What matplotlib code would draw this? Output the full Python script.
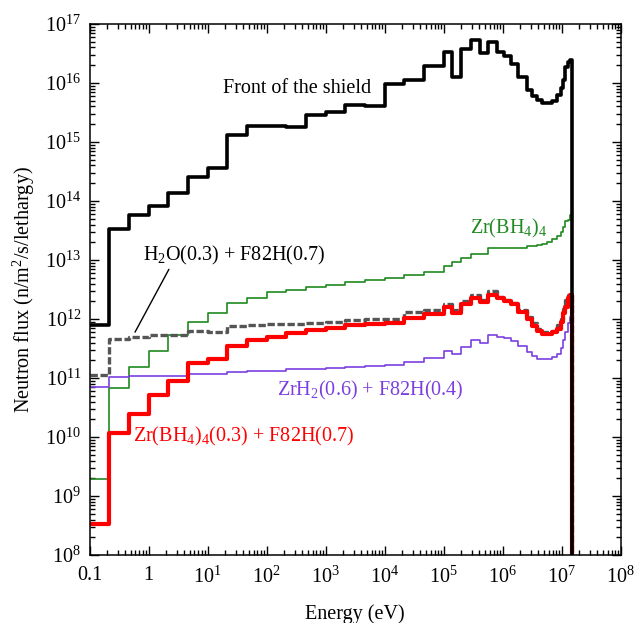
import numpy as np
import matplotlib
matplotlib.use('Agg')
import matplotlib.pyplot as plt
from matplotlib.ticker import LogLocator, FuncFormatter, NullFormatter


# Energy group boundaries (eV)
E_BOUNDS = [0.1, 0.215, 0.464, 1.0, 2.15, 4.64, 10.0, 21.5, 46.4, 100.0,
            215.0, 464.0, 1.0e3, 2.15e3, 4.64e3, 1.0e4, 2.15e4, 4.64e4, 1.0e5,
            1.41e5, 1.98e5, 2.89e5, 4.05e5, 5.61e5, 8.17e5, 1.07e6, 1.39e6,
            1.85e6, 2.57e6, 3.13e6, 3.8e6, 4.61e6, 5.61e6, 6.82e6, 8.3e6,
            9.68e6, 1.07e7, 1.16e7, 1.27e7, 1.39e7, 1.52e7]

# Flux per group (n/m2/s/lethargy)
front = [7.9e11, 3.4e13, 5.9e13, 8.3e13, 1.35e14, 2.6e14, 3.6e14, 1.3e15,
         1.87e15, 1.87e15, 1.78e15, 2.9e15, 3.2e15, 4.2e15, 4.0e15, 9.6e15,
         1.12e16, 1.96e16,
         3.3e16, 1.25e16, 3.7e16, 5.4e16, 3.2e16, 4.9e16, 3.3e16, 2.9e16,
         2.1e16, 1.25e16, 7.6e15, 6.0e15, 5.2e15, 4.5e15, 4.5e15, 5.0e15,
         6.3e15, 8.1e15, 1.12e16, 1.9e16, 2.3e16, 2.5e16]

h2o_f82h = [1.12e11, 4.6e11, 4.9e11, 5.3e11, 5.3e11, 6.3e11, 6.0e11, 7.6e11,
            7.9e11, 8.2e11, 8.3e11, 8.7e11, 9.0e11, 9.6e11, 1.0e12, 1.0e12,
            1.3e12, 1.4e12,
            1.78e12, 1.4e12, 2.0e12, 2.6e12, 2.1e12, 3.0e12, 2.4e12, 2.1e12,
            1.85e12, 1.4e12, 1.1e12, 8.7e11, 6.9e11, 6.1e11, 6.0e11, 6.3e11,
            7.9e11, 1.0e12, 1.5e12, 2.1e12, 2.6e12, 2.7e12]

zrbh4_f82h = [3.4e8, 1.18e10, 2.5e10, 5.1e10, 8.9e10, 1.78e11, 2.1e11, 3.5e11,
              4.4e11, 5.0e11, 5.9e11, 6.5e11, 7.1e11, 7.8e11, 8.1e11, 8.7e11,
              1.03e12, 1.2e12,
              1.58e12, 1.25e12, 1.78e12, 2.3e12, 1.96e12, 2.6e12, 2.25e12,
              2.0e12, 1.78e12, 1.3e12, 1.0e12, 7.6e11, 6.3e11, 5.5e11, 5.5e11,
              6.1e11, 6.9e11, 8.9e11, 1.25e12, 1.6e12, 2.25e12, 2.6e12]

zrbh4 = [1.96e9, 6.8e10, 1.55e11, 2.9e11, 5.4e11, 8.8e11, 1.28e12, 1.85e12,
         2.25e12, 2.85e12, 3.15e12, 3.45e12, 3.8e12, 4.2e12, 4.55e12, 4.9e12,
         5.6e12, 6.3e12,
         7.9e12, 9.3e12, 1.07e13, 1.26e13, 1.26e13, 1.58e13, 1.58e13, 1.58e13,
         1.58e13, 1.6e13, 1.7e13, 1.75e13, 1.8e13, 1.9e13, 2.0e13, 2.3e13,
         2.6e13, 3.0e13, 3.6e13, 4.5e13, 4.8e13, 5.8e13]

zrh2_f82h = [7.0e10, 1.04e11, 1.08e11, 1.1e11, 1.1e11, 1.15e11, 1.18e11,
             1.25e11, 1.3e11, 1.34e11, 1.4e11, 1.45e11, 1.48e11, 1.55e11,
             1.6e11, 1.65e11, 1.9e11, 2.2e11,
             2.9e11, 2.6e11, 3.4e11, 4.4e11, 3.9e11, 5.4e11, 5.0e11, 4.7e11,
             4.3e11, 3.5e11, 2.8e11, 2.35e11, 2.1e11, 2.1e11, 2.1e11, 2.3e11,
             2.6e11, 3.2e11, 4.4e11, 6.1e11, 8.6e11, 1.1e12]

plt.rcParams['font.family'] = ['Liberation Serif', 'DejaVu Serif']
plt.rcParams['mathtext.fontset'] = 'custom'
plt.rcParams['mathtext.rm'] = 'Liberation Serif'
plt.rcParams['mathtext.it'] = 'Liberation Serif:italic'
plt.rcParams['mathtext.bf'] = 'Liberation Serif:bold'
plt.rcParams['font.size'] = 14.5

fig = plt.figure(figsize=(6.35, 6.23), dpi=100)
ax = fig.add_axes([0.141, 0.109, 0.8365, 0.8525])


def plot_flux(values, **kw):
    # step line, dropping to zero above the last group
    y = np.append(values, 1.0e6)
    ax.step(E_BOUNDS, y, where='post', **kw)


plot_flux(zrbh4, color='#1f8a1f', lw=1.2)
plot_flux(zrh2_f82h, color='#7b3fe0', lw=1.2)
plot_flux(h2o_f82h, color='#555555', lw=2.4, dashes=(2.2, 0.8))
plot_flux(zrbh4_f82h, color='#ff0000', lw=3.0)
plot_flux(front, color='black', lw=2.6)

ax.set_xscale('log')
ax.set_yscale('log')
ax.set_xlim(0.1, 1e8)
ax.set_ylim(1e8, 1e17)

ax.xaxis.set_major_locator(LogLocator(base=10, numticks=20))
ax.xaxis.set_minor_locator(LogLocator(base=10, subs=np.arange(2, 10), numticks=20))
ax.yaxis.set_major_locator(LogLocator(base=10, numticks=20))
ax.yaxis.set_minor_locator(LogLocator(base=10, subs=np.arange(2, 10), numticks=20))


def xfmt(v, pos):
    p = int(round(np.log10(v)))
    if p == -1:
        return '0.1'
    if p == 0:
        return '1'
    return r'$10^{%d}$' % p


ax.xaxis.set_major_formatter(FuncFormatter(xfmt))
ax.yaxis.set_major_formatter(FuncFormatter(lambda v, pos: r'$10^{%d}$' % int(round(np.log10(v)))))
ax.xaxis.set_minor_formatter(NullFormatter())
ax.yaxis.set_minor_formatter(NullFormatter())

ax.tick_params(which='both', direction='in', top=True, right=True, width=1.0)
ax.tick_params(which='major', length=6.5)
ax.tick_params(which='minor', length=3.5)
ax.tick_params(axis='x', pad=8)
ax.tick_params(axis='y', pad=6)
for s in ax.spines.values():
    s.set_linewidth(1.1)

ax.set_xlabel('Energy (eV)', labelpad=12)
ax.set_ylabel('Neutron flux (n/m$^2$/s/lethargy)', labelpad=6)

ax.text(18.3, 6.9e15, 'Front of the shield', color='black', va='baseline')
ax.text(2.81e5, 2.8e13, 'Zr(BH$_4$)$_4$', color='#1f8a1f', va='baseline')
ax.text(150.7, 5.1e10, 'ZrH$_2$(0.6) + F82H(0.4)', color='#7b3fe0', va='baseline')
ax.text(0.546, 8.3e9, 'Zr(BH$_4$)$_4$(0.3) + F82H(0.7)', color='#ff0000', va='baseline')
ax.annotate('H$_2$O(0.3) + F82H(0.7)', xy=(0.59, 6.0e11), xytext=(0.807, 1.0e13),
            va='baseline', arrowprops=dict(arrowstyle='-', color='black', lw=1.0,
                                           shrinkA=0, shrinkB=0, relpos=(0.15, 0)))

fig.savefig('out.png', dpi=100)
